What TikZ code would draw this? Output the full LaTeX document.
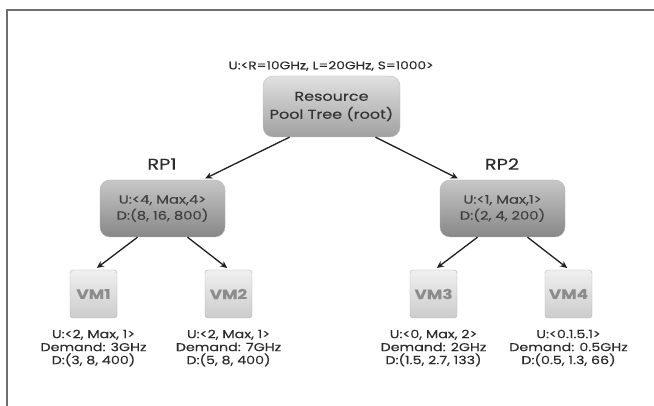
\documentclass[tikz,border=0pt]{standalone}
\usepackage{fontspec}
\setmainfont{Poppins}[FakeStretch=1.25, FakeBold=0.25]
\usetikzlibrary{arrows.meta}
\definecolor{txt}{HTML}{2B2B2B}
\definecolor{frame}{HTML}{6E6E6E}
\begin{document}
\begin{tikzpicture}[x=1pt,y=-1pt,
  rootbox/.style={draw=black!25, rounded corners=10pt, top color=black!12, bottom color=black!37, minimum width=137pt, minimum height=61pt, inner sep=0pt, align=center, text=black!80, font=\fontsize{12.8}{18}\selectfont},
  rpbox/.style={draw=black!30, rounded corners=10pt, top color=black!22, bottom color=black!47, minimum width=125pt, minimum height=57pt, inner sep=0pt, align=center, text=black!75, font=\fontsize{11.8}{16}\selectfont},
  vmbox/.style={draw=black!30, rounded corners=3pt, top color=black!6, bottom color=black!20, minimum width=47pt, minimum height=48pt, inner sep=0pt, text=black!45, font=\fontsize{13.5}{15}\selectfont\bfseries},
  lbl/.style={align=center, text=txt, inner sep=0pt, font=\fontsize{11.4}{13}\selectfont},
  rplbl/.style={text=txt, inner sep=0pt, font=\fontsize{15.5}{17}\selectfont},
  arr/.style={draw=black!88, line width=1.3pt, -{Stealth[length=7pt,width=6.5pt]}, shorten >=3pt}
]
\useasboundingbox (0,0) rectangle (654,406);
\draw[frame, line width=1.6pt] (7,406) -- (7,10) -- (654,10);

\node[lbl, font=\fontsize{11}{13}\selectfont] (toplbl) at (331,66) {U:<R=10GHz, L=20GHz, S=1000>};
\node[rootbox] (root) at (331.5,106.5) {Resource\\Pool Tree (root)};

\node[rplbl] (rp1lbl) at (162,164) {RP1};
\node[rplbl] (rp2lbl) at (502,164) {RP2};
\node[rpbox] (rp1) at (162.5,208.5) {U:<4, Max,4>\\D:(8, 16, 800)};
\node[rpbox] (rp2) at (502.5,208.5) {U:<1, Max,1>\\D:(2, 4, 200)};

\node[vmbox] (vm1) at (93.5,294) {VM1};
\node[vmbox] (vm2) at (228.5,294) {VM2};
\node[vmbox] (vm3) at (433.5,294) {VM3};
\node[vmbox] (vm4) at (568.5,294) {VM4};

\node[lbl] (vm1lbl) at (93.5,348) {U:<2, Max, 1>\\Demand: 3GHz\\D:(3, 8, 400)};
\node[lbl] (vm2lbl) at (228.5,348) {U:<2, Max, 1>\\Demand: 7GHz\\D:(5, 8, 400)};
\node[lbl] (vm3lbl) at (433.5,348) {U:<0, Max, 2>\\Demand: 2GHz\\D:(1.5, 2.7, 133)};
\node[lbl] (vm4lbl) at (568.5,348) {U:<0.1.5.1>\\Demand: 0.5GHz\\D:(0.5, 1.3, 66)};

\draw[arr] ([xshift=-42pt]root.south) -- ([xshift=40pt]rp1.north);
\draw[arr] ([xshift=44pt]root.south) -- ([xshift=-42pt]rp2.north);
\draw[arr] ([xshift=-25pt]rp1.south) -- ([xshift=1pt]vm1.north);
\draw[arr] ([xshift=25pt]rp1.south) -- ([xshift=1pt]vm2.north);
\draw[arr] ([xshift=-25pt]rp2.south) -- ([xshift=1pt]vm3.north);
\draw[arr] ([xshift=25pt]rp2.south) -- ([xshift=1pt]vm4.north);
\end{tikzpicture}
\end{document}
